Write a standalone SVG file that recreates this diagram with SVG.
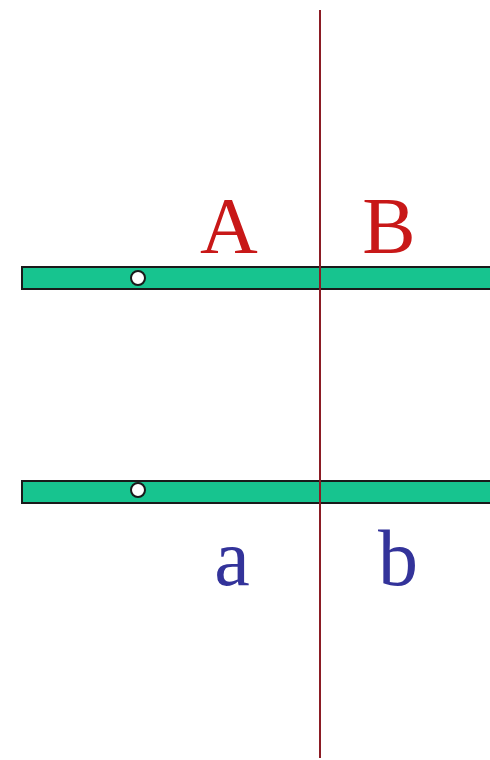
<svg xmlns="http://www.w3.org/2000/svg" width="490" height="760" viewBox="0 0 490 760">
<style>
.bar{fill:#17c48f;stroke:#1a1a1a;stroke-width:2}
.hole{fill:#fff;stroke:#1a1a1a;stroke-width:2}
.up{font-family:"Liberation Serif",serif;font-size:80px;fill:#c81818;text-anchor:middle}
.lo{font-family:"Liberation Serif",serif;font-size:80px;fill:#33339a;text-anchor:middle}
</style>
<rect width="490" height="760" fill="#fff"/>
<g id="bar-top"><rect class="bar" x="22" y="267" width="475" height="22"/><circle class="hole" cx="138" cy="278" r="7"/></g>
<g id="bar-bottom"><rect class="bar" x="22" y="481" width="475" height="22"/><circle class="hole" cx="138" cy="490" r="7"/></g>
<g id="connectors"><line x1="320" y1="10" x2="320" y2="758" stroke="#8b1c24" stroke-width="2"/></g>
<g id="labels">
<text class="up" x="229" y="253">A</text>
<text class="up" x="389" y="253">B</text>
<text class="lo" x="232" y="585">a</text>
<text class="lo" x="398" y="585">b</text>
</g>
</svg>
